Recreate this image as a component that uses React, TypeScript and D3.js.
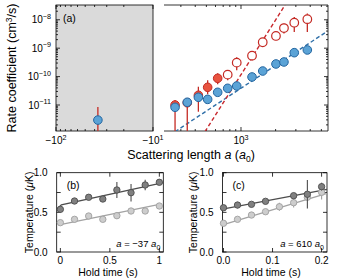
import React, { useRef, useEffect } from "react";
import * as d3 from "d3";

// ---- panel (a): rate coefficient (cm^3/s) vs scattering length (a0) ----
// negative side: one measurement
const negA = [-37];
const negK = [2.95e-12];
const negKLo = [1e-13];
const negKHi = [8.5e-12];

// positive side, blue filled points
const blueA = [267, 341, 426, 513, 627, 766, 918, 1247, 1545, 2014, 2364, 2906, 3775];
const blueK = [8.3e-12, 1.25e-11, 1.87e-11, 1.58e-11, 2.8e-11, 3.87e-11, 4.67e-11, 9.7e-11, 1.57e-10, 2.78e-10, 3.27e-10, 6.95e-10, 8.65e-10];

// positive side, red points (filled first, open after)
const redA = [267, 341, 426, 513, 627, 766, 918, 1247, 1545, 2014, 2364, 2906, 3775];
const redK = [1.0e-11, 1.2e-11, 2.2e-11, 4.2e-11, 8.7e-11, 1.17e-10, 3.1e-10, 5.45e-10, 1.62e-9, 2.7e-9, 5.1e-9, 7.9e-9, 1.05e-8];
const redLo = [1e-13, 1e-13, 5.8e-12, 2.4e-11, 5.4e-11, 7.4e-11, 1.66e-10, 3.7e-10, 1.17e-9, 1.9e-9, 3.3e-9, 3.7e-9, 3.7e-9];
const redHi = [1.5e-11, 1.4e-11, 4.4e-11, 7.4e-11, 1.3e-10, 1.66e-10, 4.8e-10, 7.8e-10, 2.2e-9, 3.6e-9, 7.4e-9, 1.26e-8, 1.66e-8];
const redOpen = [false, false, false, false, false, true, true, true, true, true, true, true, true];

// dashed guide lines (end points)
const blueFitA = [267, 5560];
const blueFitK = [1.15e-12, 3.8e-9];
const redFitA = [486, 2415];
const redFitK = [1.15e-12, 3.3e-8];

// ticks
const kMajorExp = [-11, -10, -9, -8];
const negMajorExp = [2, 1];
const posMajorExp = [3];

// ---- panel (b): a = -37 a0 ----
const holdB = [0, 0.143, 0.286, 0.429, 0.571, 0.714, 0.857, 1.0];
const darkB = [0.538, 0.643, 0.69, 0.668, 0.782, 0.748, 0.845, 0.879];
const darkBErr = [0.02, 0.02, 0.02, 0.03, 0.1, 0.11, 0.065, 0.03];
const lightB = [0.37, 0.412, 0.454, 0.412, 0.458, 0.517, 0.517, 0.58];
const lightBErr = [0.02, 0.02, 0.02, 0.02, 0.04, 0.02, 0.02, 0.02];
const fitDarkBt = [-0.037, 0.01, 1.04];
const fitDarkBT = [0.535, 0.595, 0.875];
const fitLightBt = [0, 1.0];
const fitLightBT = [0.345, 0.6];
const holdTicksB = [0, 0.5, 1];

// ---- panel (c): a = 610 a0 ----
const holdCDark = [0, 0.0286, 0.0571, 0.0857, 0.143, 0.171, 0.2];
const darkC = [0.558, 0.592, 0.601, 0.639, 0.71, 0.728, 0.824];
const darkCErr = [0.02, 0.04, 0.02, 0.02, 0.02, 0.18, 0.05];
const holdCLight = [0, 0.0286, 0.0571, 0.0857, 0.114, 0.143, 0.171, 0.2];
const lightC = [0.362, 0.412, 0.466, 0.508, 0.571, 0.622, 0.69, 0.753];
const lightCErr = [0.02, 0.02, 0.02, 0.02, 0.05, 0.06, 0.03, 0.09];
const fitDarkCt = [-0.002, 0.211];
const fitDarkCT = [0.542, 0.79];
const fitLightCt = [0, 0.211];
const fitLightCT = [0.345, 0.74];
const holdTicksC = [0, 0.1, 0.2];

const tempTicks = [0, 0.25, 0.5, 0.75, 1];
const tempLabels = [0, 0.5, 1];

const FONT = "'Liberation Sans', Arial, Helvetica, sans-serif";
const BLUE_FILL = "#5ba3d6";
const BLUE_EDGE = "#2466a0";
const RED_FILL = "#e8533f";
const RED_EDGE = "#c42a24";

function App() {
  const svgRef = useRef<SVGSVGElement>(null);

  useEffect(() => {
    const svg = d3.select(svgRef.current);
    svg.selectAll("*").remove();
    svg.attr("font-family", FONT);

    const powText = (x: number, y: number, base: string, exp: string, anchor: string, size = 10) => {
      const t = svg.append("text").attr("x", x).attr("y", y).attr("text-anchor", anchor).attr("font-size", size);
      t.append("tspan").text(base);
      t.append("tspan").attr("dy", -size * 0.42).attr("font-size", size * 0.72).text(exp);
    };

    // ================= panel (a) =================
    const top = 5, bot = 131;
    const yK = d3.scaleLog().domain([10 ** -11.915, 10 ** -7.48]).range([bot, top]);
    const xNeg = d3.scaleLog().domain([100, 10]).range([56, 153]);
    const xPos = d3.scaleLog().domain([214, 5710]).range([164, 328]);
    const [nL, nR] = xNeg.range();
    const [pL, pR] = xPos.range();

    const defs = svg.append("defs");
    defs.append("clipPath").attr("id", "clipNeg").append("rect")
      .attr("x", nL).attr("y", top).attr("width", nR - nL).attr("height", bot - top);
    defs.append("clipPath").attr("id", "clipPos").append("rect")
      .attr("x", pL).attr("y", top).attr("width", pR - pL).attr("height", bot - top);

    svg.append("rect").attr("x", nL).attr("y", top).attr("width", nR - nL).attr("height", bot - top)
      .attr("fill", "#dadada");

    // log ticks on y
    const kTicks: { v: number; major: boolean }[] = [];
    for (let e = -12; e <= -8; e++) {
      for (let m = 1; m <= 9; m++) {
        const v = m * 10 ** e;
        if (v >= yK.domain()[0] && v <= yK.domain()[1]) kTicks.push({ v, major: m === 1 });
      }
    }
    const axes = svg.append("g").attr("stroke", "#000").attr("stroke-width", 0.8);
    kTicks.forEach((t) => {
      const len = t.major ? 4 : 2;
      axes.append("line").attr("x1", nL).attr("x2", nL + len).attr("y1", yK(t.v)).attr("y2", yK(t.v));
      axes.append("line").attr("x1", pR).attr("x2", pR - len).attr("y1", yK(t.v)).attr("y2", yK(t.v));
    });
    // negative x ticks
    for (let m = 10; m <= 100; m += 10) {
      const len = m === 10 || m === 100 ? 4 : 2;
      const x = xNeg(m);
      axes.append("line").attr("x1", x).attr("x2", x).attr("y1", bot).attr("y2", bot - len);
      axes.append("line").attr("x1", x).attr("x2", x).attr("y1", top).attr("y2", top + len);
    }
    // positive x ticks
    for (let e = 2; e <= 3; e++) {
      for (let m = 1; m <= 9; m++) {
        const v = m * 10 ** e;
        if (v < xPos.domain()[0] || v > xPos.domain()[1]) continue;
        const len = m === 1 ? 4 : 2;
        const x = xPos(v);
        axes.append("line").attr("x1", x).attr("x2", x).attr("y1", bot).attr("y2", bot - len);
        axes.append("line").attr("x1", x).attr("x2", x).attr("y1", top).attr("y2", top + len);
      }
    }
    // spines
    axes.append("rect").attr("x", nL).attr("y", top).attr("width", nR - nL).attr("height", bot - top)
      .attr("fill", "none");
    axes.append("path").attr("fill", "none")
      .attr("d", `M${pL},${top}H${pR}V${bot}H${pL}`);

    // tick labels
    kMajorExp.forEach((e) => powText(nL - 5, yK(10 ** e) + 3.5, "10", `−${-e}`, "end"));
    negMajorExp.forEach((e) => powText(xNeg(10 ** e), bot + 13, "−10", `${e}`, "middle"));
    posMajorExp.forEach((e) => powText(xPos(10 ** e), bot + 13, "10", `${e}`, "middle"));

    // axis titles
    const yt = svg.append("text").attr("transform", `translate(16,${(top + bot) / 2}) rotate(-90)`)
      .attr("text-anchor", "middle").attr("font-size", 12.5);
    yt.append("tspan").text("Rate coefficient (cm");
    yt.append("tspan").attr("dy", -4.5).attr("font-size", 8.5).text("3");
    yt.append("tspan").attr("dy", 4.5).text("/s)");

    const xt = svg.append("text").attr("x", 191).attr("y", 159).attr("text-anchor", "middle").attr("font-size", 12.5);
    xt.append("tspan").text("Scattering length ");
    xt.append("tspan").attr("font-style", "italic").text("a");
    xt.append("tspan").text(" (");
    xt.append("tspan").attr("font-style", "italic").text("a");
    xt.append("tspan").attr("dy", 3).attr("font-size", 8.5).text("0");
    xt.append("tspan").attr("dy", -3).text(")");

    svg.append("text").attr("x", 63).attr("y", 22).attr("font-size", 10.5).text("(a)");

    // negative side data
    const gNeg = svg.append("g").attr("clip-path", "url(#clipNeg)");
    negA.forEach((a, i) => {
      gNeg.append("line").attr("x1", xNeg(-a)).attr("x2", xNeg(-a))
        .attr("y1", yK(negKLo[i])).attr("y2", yK(negKHi[i]))
        .attr("stroke", RED_EDGE).attr("stroke-width", 1.3);
      gNeg.append("circle").attr("cx", xNeg(-a)).attr("cy", yK(negK[i])).attr("r", 4.3)
        .attr("fill", BLUE_FILL).attr("stroke", BLUE_EDGE).attr("stroke-width", 1);
    });

    // positive side
    const gPos = svg.append("g").attr("clip-path", "url(#clipPos)");
    const line = d3.line<[number, number]>().x((d) => xPos(d[0])).y((d) => yK(d[1]));
    gPos.append("path").attr("d", line(blueFitA.map((a, i) => [a, blueFitK[i]]) as [number, number][]))
      .attr("fill", "none").attr("stroke", "#2f6fa8").attr("stroke-width", 1.4).attr("stroke-dasharray", "4,2.5");
    gPos.append("path").attr("d", line(redFitA.map((a, i) => [a, redFitK[i]]) as [number, number][]))
      .attr("fill", "none").attr("stroke", "#c8282d").attr("stroke-width", 1.4).attr("stroke-dasharray", "4,2.5");

    redA.forEach((a, i) => {
      gPos.append("line").attr("x1", xPos(a)).attr("x2", xPos(a))
        .attr("y1", yK(redLo[i])).attr("y2", yK(redHi[i]))
        .attr("stroke", RED_EDGE).attr("stroke-width", 1.3);
    });
    redA.forEach((a, i) => {
      gPos.append("circle").attr("cx", xPos(a)).attr("cy", yK(redK[i])).attr("r", 4.3)
        .attr("fill", redOpen[i] ? "#fff" : RED_FILL).attr("stroke", RED_EDGE)
        .attr("stroke-width", redOpen[i] ? 1.2 : 1);
    });
    blueA.forEach((a, i) => {
      gPos.append("circle").attr("cx", xPos(a)).attr("cy", yK(blueK[i])).attr("r", 4.3)
        .attr("fill", BLUE_FILL).attr("stroke", BLUE_EDGE).attr("stroke-width", 1);
    });

    // ================= panels (b), (c) =================
    const tTop = 172.7, tBot = 252;
    const yT = d3.scaleLinear().domain([0, 1]).range([tBot, tTop]);

    const drawTemp = (cfg: {
      x: d3.ScaleLinear<number, number>;
      ticks: number[];
      fmt: (v: number) => string;
      dark: [number[], number[], number[]];
      light: [number[], number[], number[]];
      fitDark: [number[], number[]];
      fitLight: [number[], number[]];
      label: string;
      note: string;
      titleX: number;
      labelX: number;
    }) => {
      const { x } = cfg;
      const [x0, x1] = x.range();
      const g = svg.append("g");
      const ax = g.append("g").attr("stroke", "#000").attr("stroke-width", 0.8);
      tempTicks.forEach((v) => {
        ax.append("line").attr("x1", x0).attr("x2", x0 + 4).attr("y1", yT(v)).attr("y2", yT(v));
        ax.append("line").attr("x1", x1).attr("x2", x1 - 4).attr("y1", yT(v)).attr("y2", yT(v));
      });
      cfg.ticks.forEach((v) => {
        ax.append("line").attr("x1", x(v)).attr("x2", x(v)).attr("y1", tBot).attr("y2", tBot - 4);
        ax.append("line").attr("x1", x(v)).attr("x2", x(v)).attr("y1", tTop).attr("y2", tTop + 4);
      });
      ax.append("rect").attr("x", x0).attr("y", tTop).attr("width", x1 - x0).attr("height", tBot - tTop)
        .attr("fill", "none");

      tempLabels.forEach((v) => {
        g.append("text").attr("x", x0 - 9).attr("y", yT(v) + 3.5).attr("text-anchor", "end")
          .attr("font-size", 10).text(v.toFixed(1));
      });
      cfg.ticks.forEach((v) => {
        g.append("text").attr("x", x(v)).attr("y", tBot + 12).attr("text-anchor", "middle")
          .attr("font-size", 10).text(cfg.fmt(v));
      });
      g.append("text").attr("x", cfg.titleX).attr("y", 276).attr("text-anchor", "middle")
        .attr("font-size", 10.5).text("Hold time (s)");
      const yl = g.append("text").attr("transform", `translate(${cfg.labelX},${(tTop + tBot) / 2}) rotate(-90)`)
        .attr("text-anchor", "middle").attr("font-size", 10.5);
      yl.append("tspan").text("Temperature (");
      yl.append("tspan").attr("font-style", "italic").text("μ");
      yl.append("tspan").text("K)");

      g.append("text").attr("x", x0 + 10).attr("y", 189).attr("font-size", 10.5).text(cfg.label);
      const nt = g.append("text").attr("x", x1 - 3).attr("y", 247).attr("text-anchor", "end").attr("font-size", 9.5);
      nt.append("tspan").attr("font-style", "italic").text("a");
      nt.append("tspan").text(cfg.note);
      nt.append("tspan").attr("font-style", "italic").text("a");
      nt.append("tspan").attr("dy", 2.5).attr("font-size", 7).text("0");

      const fitPath = (t: number[], T: number[]) =>
        d3.line<number>().x((d) => x(d)).y((_, i) => yT(T[i]))(t);
      g.append("path").attr("d", fitPath(cfg.fitLight[0], cfg.fitLight[1]))
        .attr("fill", "none").attr("stroke", "#a3a3a3").attr("stroke-width", 1.3);
      g.append("path").attr("d", fitPath(cfg.fitDark[0], cfg.fitDark[1]))
        .attr("fill", "none").attr("stroke", "#4d4d4d").attr("stroke-width", 1.3);

      const pts = (set: [number[], number[], number[]], fill: string, edge: string) => {
        const [t, T, e] = set;
        t.forEach((tv, i) => {
          g.append("line").attr("x1", x(tv)).attr("x2", x(tv))
            .attr("y1", yT(T[i] - e[i])).attr("y2", yT(T[i] + e[i]))
            .attr("stroke", edge).attr("stroke-width", 1.1);
        });
        t.forEach((tv, i) => {
          g.append("circle").attr("cx", x(tv)).attr("cy", yT(T[i])).attr("r", 3.2)
            .attr("fill", fill).attr("stroke", edge).attr("stroke-width", 0.9);
        });
      };
      pts(cfg.light, "#cdcdcd", "#9f9f9f");
      pts(cfg.dark, "#808080", "#4d4d4d");
    };

    drawTemp({
      x: d3.scaleLinear().domain([-0.037, 1.04]).range([56.7, 163.3]),
      ticks: holdTicksB,
      fmt: (v) => `${v}`,
      dark: [holdB, darkB, darkBErr],
      light: [holdB, lightB, lightBErr],
      fitDark: [fitDarkBt, fitDarkBT],
      fitLight: [fitLightBt, fitLightBT],
      label: "(b)",
      note: " = −37 ",
      titleX: 108,
      labelX: 33,
    });
    drawTemp({
      x: d3.scaleLinear().domain([-0.002, 0.211]).range([222.5, 327]),
      ticks: holdTicksC,
      fmt: (v) => v.toFixed(1),
      dark: [holdCDark, darkC, darkCErr],
      light: [holdCLight, lightC, lightCErr],
      fitDark: [fitDarkCt, fitDarkCT],
      fitLight: [fitLightCt, fitLightCT],
      label: "(c)",
      note: " = 610 ",
      titleX: 271,
      labelX: 197,
    });
  }, []);

  return (
    <svg ref={svgRef} width={338} height={280} style={{ position: "absolute", left: 0, top: 0, background: "#fff" }} />
  );
}

export default App;
